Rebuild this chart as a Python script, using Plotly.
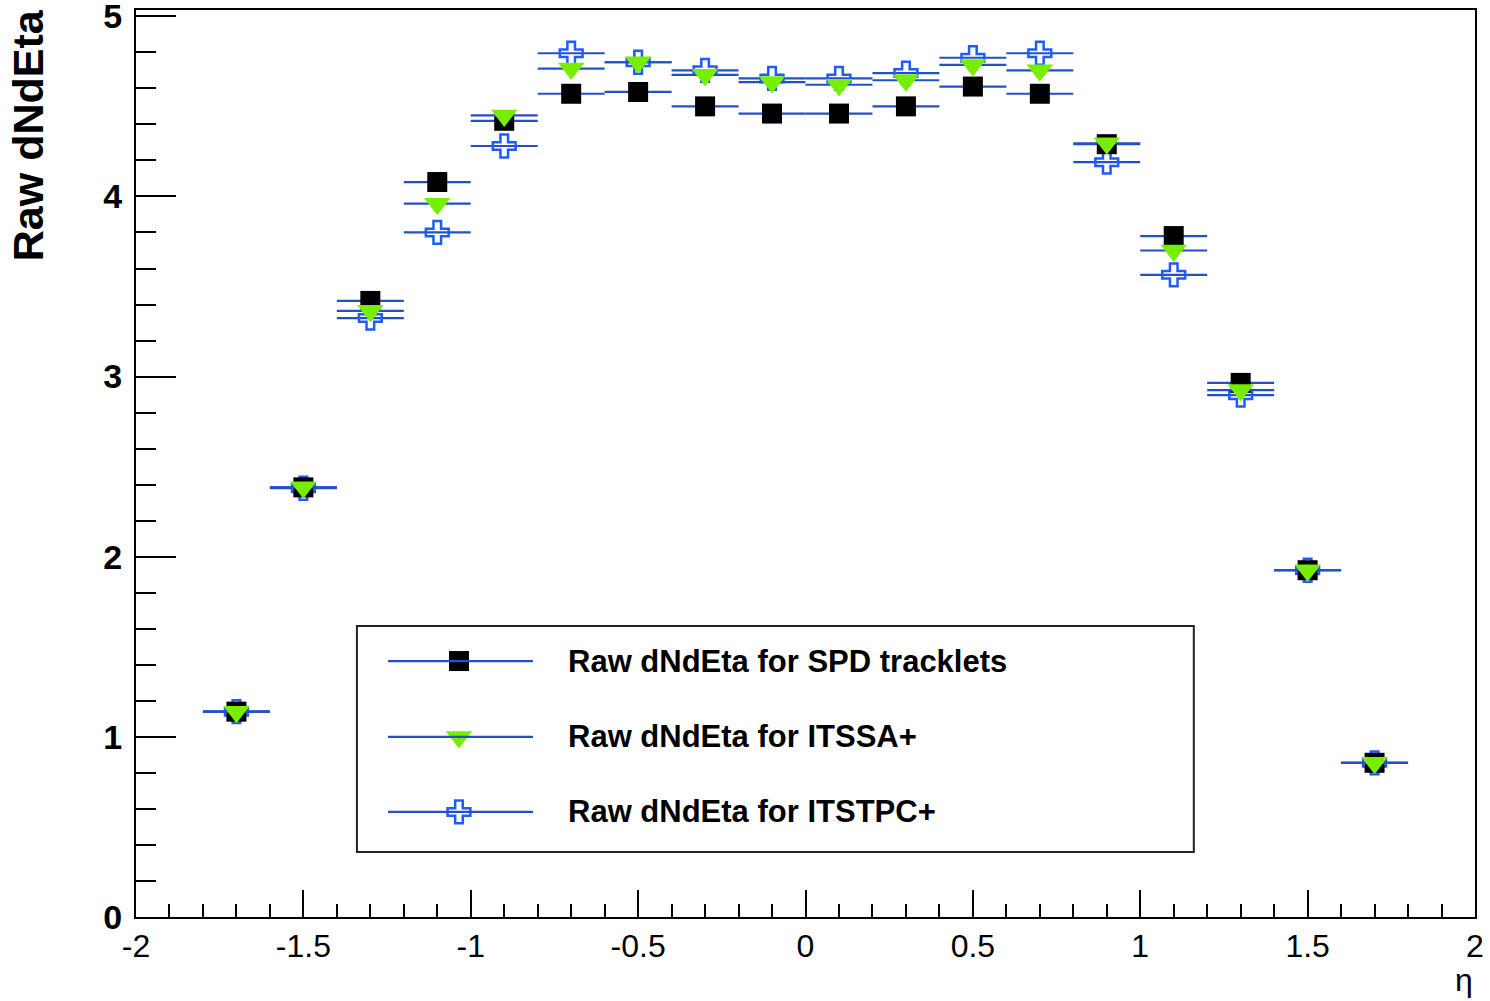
import plotly.graph_objects as go

# ---- data ----
eta = [-1.7, -1.5, -1.3, -1.1, -0.9, -0.7, -0.5, -0.3, -0.1,
       0.1, 0.3, 0.5, 0.7, 0.9, 1.1, 1.3, 1.5, 1.7]
half_width = [0.1] * len(eta)

spd = [1.14, 2.385, 3.42, 4.08, 4.42, 4.57, 4.58, 4.50, 4.46,
       4.46, 4.50, 4.61, 4.57, 4.29, 3.78, 2.965, 1.925, 0.856]
itssa = [1.14, 2.385, 3.365, 3.96, 4.45, 4.71, 4.745, 4.675, 4.635,
         4.62, 4.645, 4.73, 4.70, 4.295, 3.70, 2.925, 1.925, 0.856]
itstpc = [1.14, 2.38, 3.325, 3.80, 4.28, 4.795, 4.745, 4.70, 4.655,
          4.655, 4.685, 4.77, 4.795, 4.19, 3.565, 2.897, 1.925, 0.856]

names = ["Raw dNdEta for SPD tracklets",
         "Raw dNdEta for ITSSA+",
         "Raw dNdEta for ITSTPC+"]

x_tickvals = [-2, -1.5, -1, -0.5, 0, 0.5, 1, 1.5, 2]
x_ticktext = ["-2", "-1.5", "-1", "-0.5", "0", "0.5", "1", "1.5", "2"]
y_tickvals = [0, 1, 2, 3, 4, 5]
y_ticktext = ["0", "1", "2", "3", "4", "5"]

# ---- styles ----
ERR_BLUE = "#2350c8"
FONT = "Liberation Sans"
styles = {
    names[0]: dict(symbol="square", size=20, color="black",
                   line=dict(width=0)),
    names[1]: dict(symbol="triangle-down", size=23, color="#77ee00",
                   line=dict(width=0)),
    names[2]: dict(symbol="cross-open", size=19, color="#1e5cff",
                   line=dict(width=2.5, color="#1e5cff")),
}

fig = go.Figure()

# draw order: ITSTPC, SPD, ITSSA (triangles on top)
for name, vals in [(names[2], itstpc), (names[0], spd), (names[1], itssa)]:
    fig.add_trace(go.Scatter(
        x=eta, y=vals, mode="markers", name=name, showlegend=False,
        marker=styles[name],
        error_x=dict(type="data", array=half_width, visible=True,
                     color=ERR_BLUE, thickness=2.2, width=0),
    ))

# ---- custom ROOT-style legend (paper coordinates) ----
leg_x0, leg_x1, leg_y0, leg_y1 = 0.165, 0.790, 0.0717, 0.3208
fig.add_shape(type="rect", xref="paper", yref="paper",
              x0=leg_x0, x1=leg_x1, y0=leg_y0, y1=leg_y1,
              line=dict(color="#222222", width=2), fillcolor="white",
              layer="below")
leg_rows = [0.2822, 0.1985, 0.1158]
line_x0, line_x1, mark_x, text_x = 0.1882, 0.2965, 0.2412, 0.3211
for name, yy in zip(names, leg_rows):
    fig.add_shape(type="line", xref="paper", yref="paper",
                  x0=line_x0, x1=line_x1, y0=yy, y1=yy,
                  line=dict(color=ERR_BLUE, width=2.2))
    fig.add_trace(go.Scatter(
        x=[mark_x], y=[yy], xaxis="x2", yaxis="y2", mode="markers",
        marker=styles[name], showlegend=False, hoverinfo="skip"))
    fig.add_annotation(xref="paper", yref="paper", x=text_x, y=yy,
                       text=name, showarrow=False, xanchor="left",
                       yanchor="middle",
                       font=dict(family=FONT, size=31, color="black",
                                 weight="bold"))

# axis titles as annotations (ROOT places them at the axis ends)
fig.add_annotation(xref="paper", yref="paper", x=-0.0807, y=1.003,
                   text="Raw dNdEta", textangle=-90, showarrow=False,
                   xanchor="center", yanchor="top",
                   font=dict(family=FONT, size=43, color="black",
                             weight="bold"))
fig.add_annotation(xref="paper", yref="paper", x=1.0, y=-0.069,
                   text="η", showarrow=False, xanchor="right",
                   yanchor="middle",
                   font=dict(family=FONT, size=32, color="black"))

fig.update_layout(
    width=1490, height=1001,
    margin=dict(l=136, r=15, t=10, b=84, autoexpand=False),
    paper_bgcolor="white", plot_bgcolor="white",
    showlegend=False,
    xaxis=dict(range=[-2, 2], tickmode="array", tickvals=x_tickvals,
               ticktext=x_ticktext, automargin=False,
               showgrid=False, zeroline=False,
               showline=True, linecolor="black", linewidth=2, mirror=True,
               ticks="inside", ticklen=27, tickwidth=1.5, tickcolor="black",
               minor=dict(dtick=0.1, tick0=-2, ticks="inside", ticklen=13,
                          tickwidth=1.5, tickcolor="black", showgrid=False),
               tickfont=dict(family=FONT, size=32, color="black"),
               ticklabelstandoff=0, ticklabeloverflow="allow"),
    yaxis=dict(range=[0, 5.035], tickmode="array", tickvals=y_tickvals,
               ticktext=y_ticktext, automargin=False,
               showgrid=False, zeroline=False,
               showline=True, linecolor="black", linewidth=2, mirror=True,
               ticks="inside", ticklen=40, tickwidth=1.5, tickcolor="black",
               minor=dict(dtick=0.2, tick0=0, ticks="inside", ticklen=20,
                          tickwidth=1.5, tickcolor="black", showgrid=False),
               tickfont=dict(family=FONT, size=34, color="black",
                             weight="bold"),
               ticklabelstandoff=5, ticklabeloverflow="allow"),
    xaxis2=dict(range=[0, 1], overlaying="x", visible=False,
                fixedrange=True),
    yaxis2=dict(range=[0, 1], overlaying="y", visible=False,
                fixedrange=True),
)

fig.write_html("out.html")
